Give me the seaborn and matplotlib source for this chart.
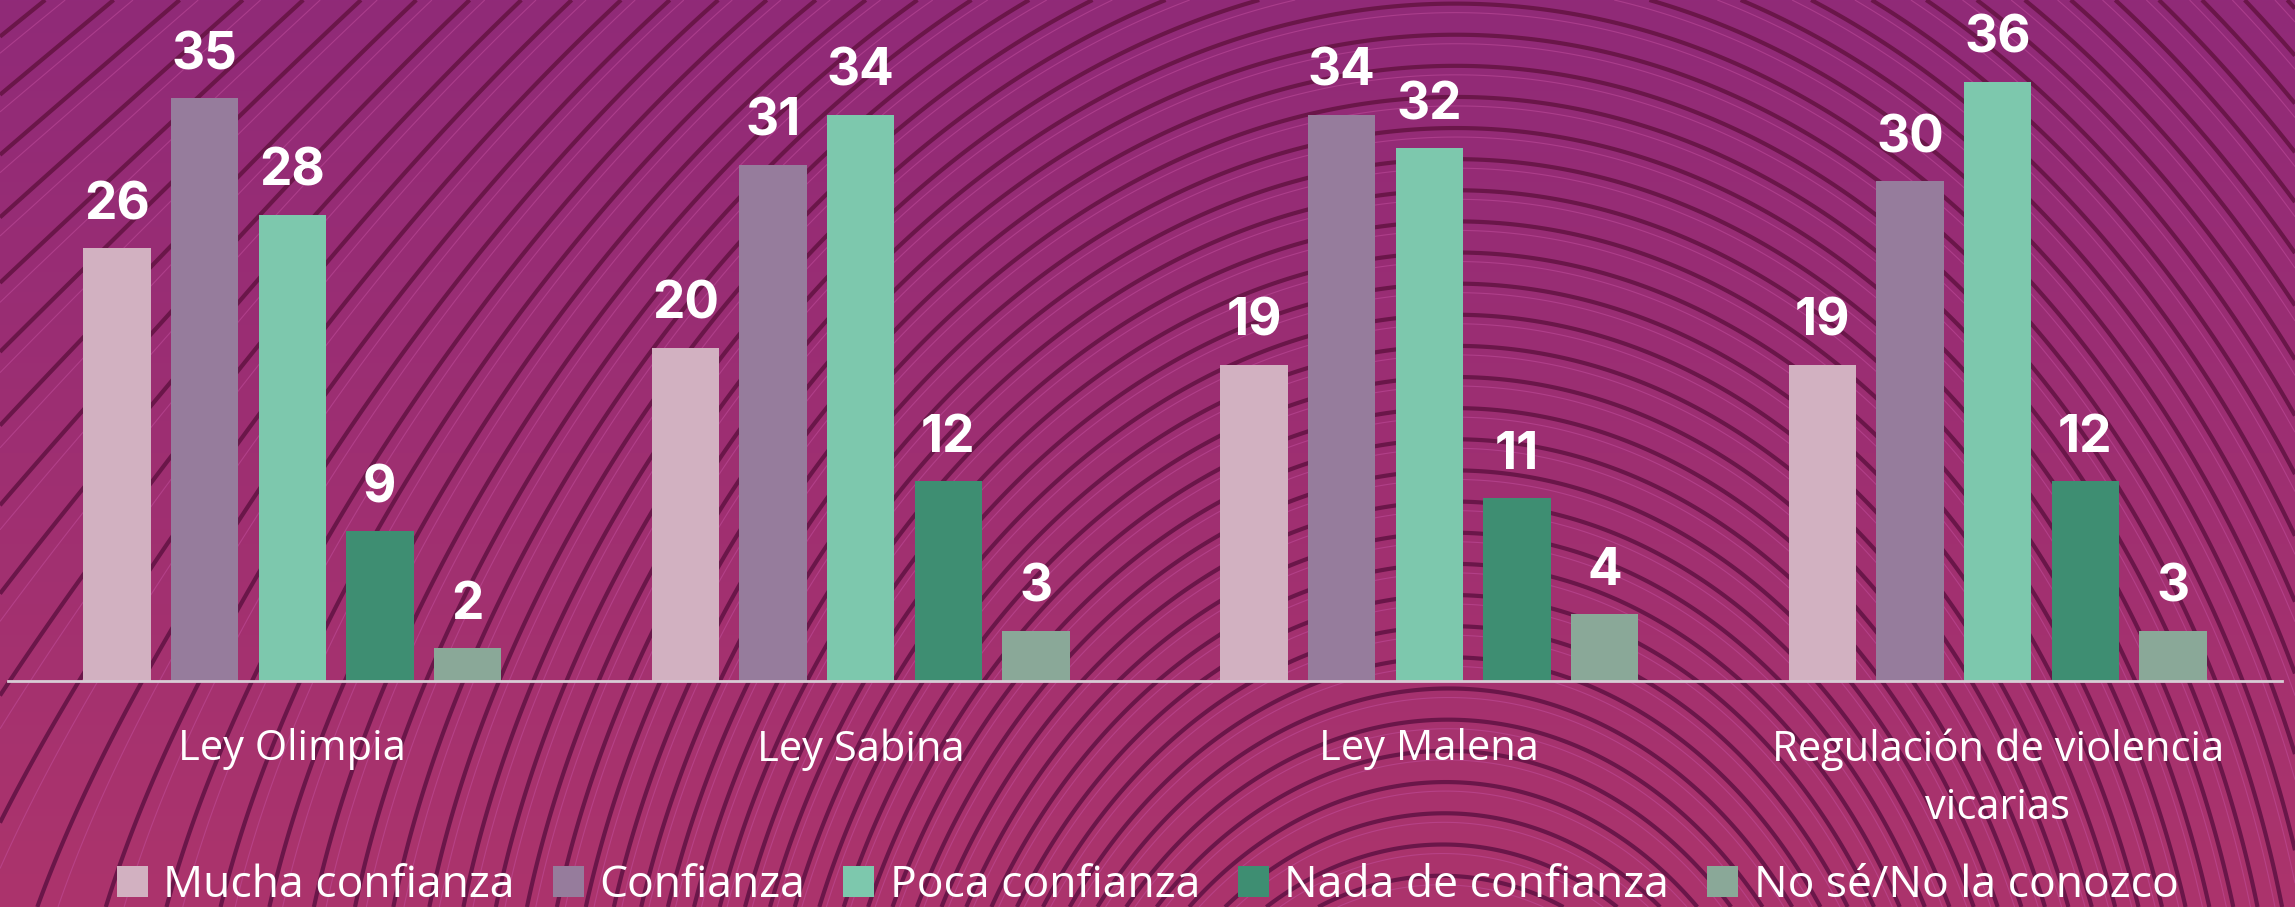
import numpy as np
import pandas as pd
import matplotlib
matplotlib.use("Agg")
import matplotlib.pyplot as plt
import seaborn as sns
from matplotlib.patches import Patch

# data
laws = ["Ley Olimpia", "Ley Sabina", "Ley Malena", "Regulación de violencia\nvicarias"]
levels = ["Mucha confianza", "Confianza", "Poca confianza", "Nada de confianza", "No sé/No la conozco"]
mucha = [26, 20, 19, 19]
confianza = [35, 31, 34, 30]
poca = [28, 34, 32, 36]
nada = [9, 12, 11, 12]
nose = [2, 3, 4, 3]

colors = ["#D2B1C1", "#967C9C", "#7DC8AD", "#3E8E72", "#8AA898"]

df = pd.DataFrame({"ley": laws, levels[0]: mucha, levels[1]: confianza,
                   levels[2]: poca, levels[3]: nada, levels[4]: nose})
long = df.melt(id_vars="ley", var_name="nivel", value_name="pct")

sns.set_theme(style="white")
plt.rcParams['font.family'] = ['Open Sans', 'DejaVu Sans']

fig = plt.figure(figsize=(22.95, 9.07), dpi=100)

# background: gradient with swirling lines
bg = fig.add_axes([0, 0, 1, 1], zorder=-5)
bg.set_axis_off()
gx, gy = np.meshgrid(np.linspace(0, 2.53, 900), np.linspace(1, 0, 360))
grad = np.zeros(gx.shape + (3,))
top = np.array([0x90, 0x2A, 0x78]) / 255
bot = np.array([0xAC, 0x34, 0x6C]) / 255
t = (1 - gy)[..., None]
grad[:] = top * (1 - t) + bot * t
bg.imshow(grad, extent=[0, 2.53, 0, 1], aspect="auto", origin="upper")
field = np.hypot(gx - 1.55, gy + 0.35) + 0.22 * np.sin(2.6 * gx + 0.4) * (1 - 0.5 * gy)
lv = np.arange(field.min(), field.max(), 0.038)
bg.contour(gx, gy, field, levels=lv, colors="#6A1649", linewidths=3.0, origin="upper")
bg.contour(gx, gy, field + 0.011, levels=lv, colors="#C450A0", linewidths=0.8, alpha=0.5, origin="upper")
bg.set_xlim(0, 2.53)
bg.set_ylim(0, 1)

ax = fig.add_axes([8 / 2295, 1 - 681 / 907, 2274 / 2295, 681 / 907])
ax.set_facecolor("none")
sns.barplot(data=long, x="ley", y="pct", hue="nivel", palette=colors,
            width=0.77, gap=0.23, saturation=1, legend=False, ax=ax,
            edgecolor="none", linewidth=0)
for c in ax.containers:
    ax.bar_label(c, padding=13, color="white", fontsize=37, fontweight="bold",
                 family=["Inter", "DejaVu Sans"])

ax.set_xlim(-0.5, 3.5)
ax.set_ylim(0, 40.9)
ax.set_xlabel("")
ax.set_ylabel("")
ax.set_yticks([])
for s in ["top", "right", "left"]:
    ax.spines[s].set_visible(False)
ax.spines["bottom"].set_color("#D8CCD6")
ax.spines["bottom"].set_linewidth(2)
ax.tick_params(axis="x", length=0, pad=34, labelsize=30, labelcolor="white")
for lab in ax.get_xticklabels():
    lab.set_linespacing(1.5)
    lab.set_va("top")

handles = [Patch(facecolor=c, edgecolor="none") for c in colors]
fig.legend(handles, levels, loc="center", bbox_to_anchor=(0.5, 1 - 886 / 907),
           ncol=5, frameon=False, fontsize=32, labelcolor="white",
           handlelength=0.7, handleheight=0.7, handletextpad=0.35,
           columnspacing=0.85, borderaxespad=0)

fig.savefig("out.png", dpi=100)
